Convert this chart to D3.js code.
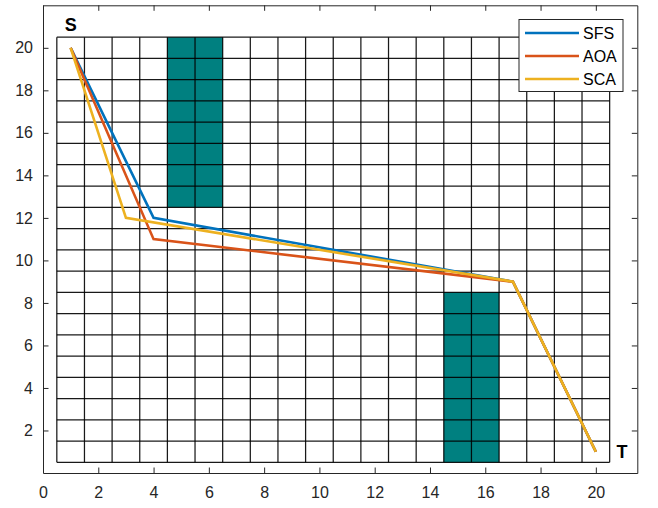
<!DOCTYPE html>
<html>
<head>
<meta charset="utf-8">
<script src="https://cdn.jsdelivr.net/npm/d3@7"></script>
<style>
  html, body { margin: 0; padding: 0; background: #fff; }
  svg { display: block; font-family: "Liberation Sans", Arial, Helvetica, sans-serif; }
</style>
</head>
<body>
<svg id="chart" width="658" height="508"></svg>
<script>
// Path series (T, S) for each planner
const seriesNames = ["SFS", "AOA", "SCA"];
const seriesColors = ["#0072BD", "#D95319", "#EDB120"];
const sfsPath = [[1, 20], [4, 12], [17, 9], [20, 1]];
const aoaPath = [[1, 20], [4, 11], [17, 9], [20, 1]];
const scaPath = [[1, 20], [3, 12], [17, 9], [20, 1]];
const paths = [sfsPath, aoaPath, scaPath];

// Obstacle blocks: [x0, x1, y0, y1] in grid coordinates
const obstacles = [[4.5, 6.5, 12.5, 20.5], [14.5, 16.5, 0.5, 8.5]];

// Grid extent (cells centred on integer coordinates 1..20)
const gridMin = 0.5, gridMax = 20.5, gridCells = 20;

const xTicks = [0, 2, 4, 6, 8, 10, 12, 14, 16, 18, 20];
const yTicks = [2, 4, 6, 8, 10, 12, 14, 16, 18, 20];

const svg = d3.select("#chart");
const plotLeft = 43, plotRight = 637.3, plotTop = 5.3, plotBottom = 473;
const x = d3.scaleLinear().domain([0, 21.5]).range([plotLeft, plotRight]);
const y = d3.scaleLinear().domain([0, 22]).range([plotBottom, plotTop]);

const axisColor = "#262626";

// obstacles
svg.append("g").selectAll("rect").data(obstacles).join("rect")
  .attr("x", d => x(d[0]))
  .attr("y", d => y(d[3]))
  .attr("width", d => x(d[1]) - x(d[0]))
  .attr("height", d => y(d[2]) - y(d[3]))
  .attr("fill", "#008080");

// grid lines
const gridVals = d3.range(gridCells + 1).map(i => gridMin + i);
const grid = svg.append("g").attr("stroke", "#000").attr("stroke-width", 1.25).attr("stroke-opacity", 0.9);
grid.selectAll("line.v").data(gridVals).join("line").attr("class", "v")
  .attr("x1", d => x(d)).attr("x2", d => x(d))
  .attr("y1", y(gridMin)).attr("y2", y(gridMax));
grid.selectAll("line.h").data(gridVals).join("line").attr("class", "h")
  .attr("y1", d => y(d)).attr("y2", d => y(d))
  .attr("x1", x(gridMin)).attr("x2", x(gridMax));

// axes box with inward ticks on all four sides
const tickLen = 5.5;
const axBottom = svg.append("g").attr("transform", `translate(0,${plotBottom})`)
  .call(d3.axisBottom(x).tickValues(xTicks).tickSizeInner(-tickLen).tickSizeOuter(0).tickPadding(14));
const axTop = svg.append("g").attr("transform", `translate(0,${plotTop})`)
  .call(d3.axisTop(x).tickValues(xTicks).tickSizeInner(-tickLen).tickSizeOuter(0).tickFormat(""));
const axLeft = svg.append("g").attr("transform", `translate(${plotLeft},0)`)
  .call(d3.axisLeft(y).tickValues(yTicks).tickSizeInner(-tickLen).tickSizeOuter(0).tickPadding(10));
const axRight = svg.append("g").attr("transform", `translate(${plotRight},0)`)
  .call(d3.axisRight(y).tickValues(yTicks).tickSizeInner(-tickLen).tickSizeOuter(0).tickFormat(""));
[axBottom, axTop, axLeft, axRight].forEach(g => {
  g.select(".domain").attr("stroke", axisColor).attr("stroke-width", 1);
  g.selectAll(".tick line").attr("stroke", axisColor);
  g.selectAll(".tick text").attr("fill", axisColor).attr("font-size", 16)
    .attr("font-family", "'Liberation Sans', Arial, sans-serif");
});

// path lines
const line = d3.line().x(d => x(d[0])).y(d => y(d[1]));
svg.append("g").selectAll("path").data(paths).join("path")
  .attr("d", line)
  .attr("fill", "none")
  .attr("stroke", (d, i) => seriesColors[i])
  .attr("stroke-width", 2.6)
  .attr("stroke-linejoin", "miter");

// axis labels placed in data space
svg.append("text").attr("x", x(1)).attr("y", y(21.1)).attr("dy", "0.35em")
  .attr("text-anchor", "middle").attr("font-size", 18).attr("font-weight", "bold")
  .attr("fill", "#000").text("S");
svg.append("text").attr("x", x(20.95)).attr("y", y(0.98)).attr("dy", "0.35em")
  .attr("text-anchor", "middle").attr("font-size", 18).attr("font-weight", "bold")
  .attr("fill", "#000").text("T");

// legend
const lg = svg.append("g");
lg.append("rect").attr("x", 519).attr("y", 19.5).attr("width", 104).attr("height", 72)
  .attr("fill", "#fff").attr("stroke", axisColor).attr("stroke-width", 1);
seriesNames.forEach((name, i) => {
  const ry = 33 + i * 23;
  lg.append("line").attr("x1", 525).attr("x2", 579).attr("y1", ry).attr("y2", ry)
    .attr("stroke", seriesColors[i]).attr("stroke-width", 2.6);
  lg.append("text").attr("x", 583).attr("y", ry).attr("dy", "0.36em")
    .attr("font-size", 16).attr("fill", "#000").text(name);
});
</script>
</body>
</html>
